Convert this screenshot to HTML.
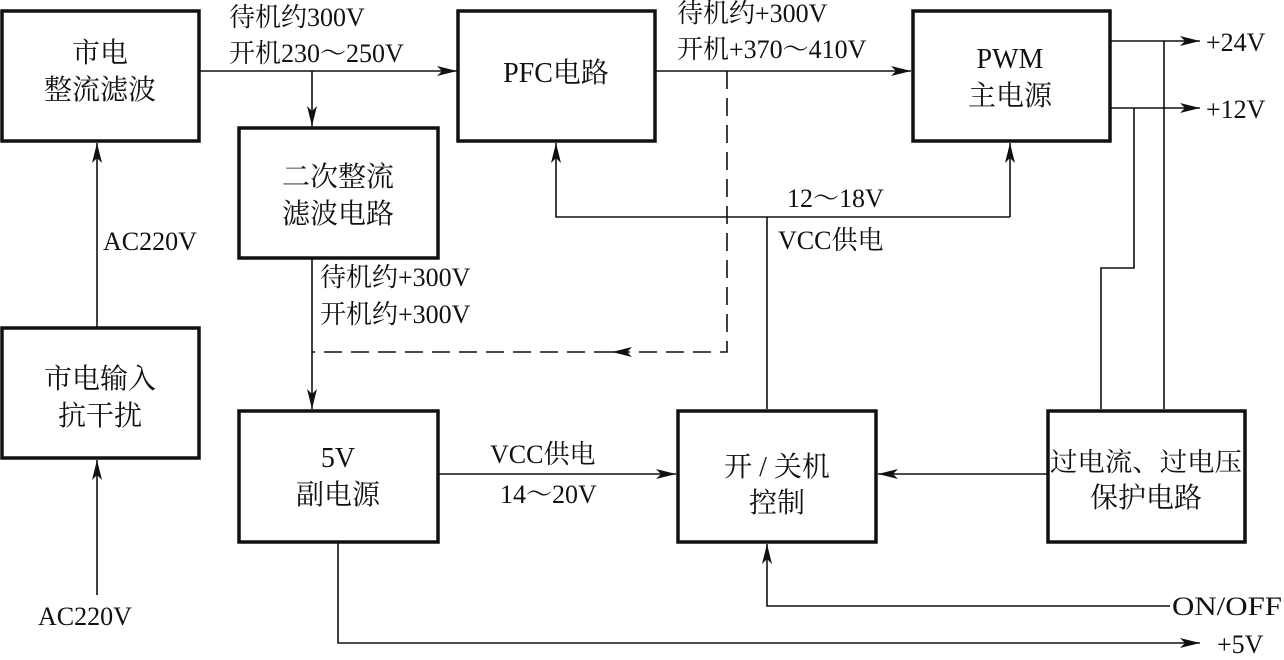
<!DOCTYPE html>
<html><head><meta charset="utf-8"><style>
html,body{margin:0;padding:0;background:#fff}
svg text{font-family:"Liberation Serif","Noto Serif CJK SC",serif;font-size:26px;fill:#111}
svg text.b{font-size:28px}
</style></head><body>
<svg width="1284" height="655" viewBox="0 0 1284 655" xmlns="http://www.w3.org/2000/svg">
<defs>
<marker id="a" viewBox="0 0 20 10" refX="20" refY="5" markerWidth="20" markerHeight="10" markerUnits="userSpaceOnUse" orient="auto">
<path d="M0,0 L20,5 L0,10 L5,5 Z" fill="#111"/></marker>
</defs>
<g fill="none" stroke="#111" stroke-width="3.5">
<rect x="2" y="11" width="197" height="130"/>
<rect x="458" y="11" width="197" height="130"/>
<rect x="913" y="11" width="197" height="130"/>
<rect x="239" y="128" width="199" height="130"/>
<rect x="2" y="328" width="197" height="130"/>
<rect x="239" y="411" width="199" height="131"/>
<rect x="678" y="411" width="198" height="131"/>
<rect x="1048" y="411" width="197" height="131"/>
</g>
<g fill="none" stroke="#111" stroke-width="1.6">
<line x1="200" y1="71" x2="457" y2="71" marker-end="url(#a)"/>
<line x1="312" y1="71" x2="312" y2="126" marker-end="url(#a)"/>
<line x1="656" y1="71" x2="911" y2="71" marker-end="url(#a)"/>
<polyline points="767,409 767,217"/>
<polyline points="1010,217 556,217 556,143" marker-end="url(#a)"/>
<line x1="1010" y1="217" x2="1010" y2="143" marker-end="url(#a)"/>
<line x1="1111" y1="41" x2="1200" y2="41" marker-end="url(#a)"/>
<line x1="1111" y1="108" x2="1200" y2="108" marker-end="url(#a)"/>
<polyline points="1164,41 1164,409"/>
<polyline points="1134,108 1134,268 1101,268 1101,409"/>
<line x1="97" y1="327" x2="97" y2="143" marker-end="url(#a)"/>
<line x1="97" y1="595" x2="97" y2="460" marker-end="url(#a)"/>
<line x1="312" y1="259" x2="312" y2="409" marker-end="url(#a)"/>
<line x1="439" y1="474" x2="676" y2="474" marker-end="url(#a)"/>
<line x1="1047" y1="474" x2="878" y2="474" marker-end="url(#a)"/>
<polyline points="1170,606 767,606 767,544" marker-end="url(#a)"/>
<polyline points="338,543 338,643 1200,643" marker-end="url(#a)"/>
<polyline points="727,71 727,352 612,352" stroke-dasharray="18,9" marker-end="url(#a)"/>
<line x1="612" y1="352" x2="312" y2="352" stroke-dasharray="18,9"/>
</g>
<g text-anchor="middle">
<text class="b" x="100" y="62">市电</text>
<text class="b" x="100" y="99">整流滤波</text>
<text class="b" x="556" y="82">PFC电路</text>
<text class="b" x="1010" y="68">PWM</text>
<text class="b" x="1010" y="105">主电源</text>
<text class="b" x="338" y="186">二次整流</text>
<text class="b" x="338" y="223">滤波电路</text>
<text class="b" x="100" y="388">市电输入</text>
<text class="b" x="100" y="425">抗干扰</text>
<text class="b" x="338" y="467">5V</text>
<text class="b" x="338" y="504">副电源</text>
<text class="b" x="777" y="476">开 / 关机</text>
<text class="b" x="777" y="512">控制</text>
<text x="1146" y="471" textLength="192" lengthAdjust="spacingAndGlyphs">过电流、过电压</text>
<text class="b" x="1146" y="507">保护电路</text>
</g>
<text x="229" y="26">待机约300V</text>
<text x="229" y="62">开机230～250V</text>
<text x="677" y="22">待机约+300V</text>
<text x="677" y="58">开机+370～410V</text>
<text x="787" y="207">12～18V</text>
<text x="778" y="249">VCC供电</text>
<text x="103" y="250">AC220V</text>
<text x="320" y="286">待机约+300V</text>
<text x="320" y="323">开机约+300V</text>
<text x="490" y="463">VCC供电</text>
<text x="500" y="503">14～20V</text>
<text x="1206" y="51">+24V</text>
<text x="1206" y="118">+12V</text>
<text x="1172" y="615" textLength="110" lengthAdjust="spacingAndGlyphs">ON/OFF</text>
<text x="1217" y="653">+5V</text>
<text x="38" y="625">AC220V</text>
</svg>
</body></html>
